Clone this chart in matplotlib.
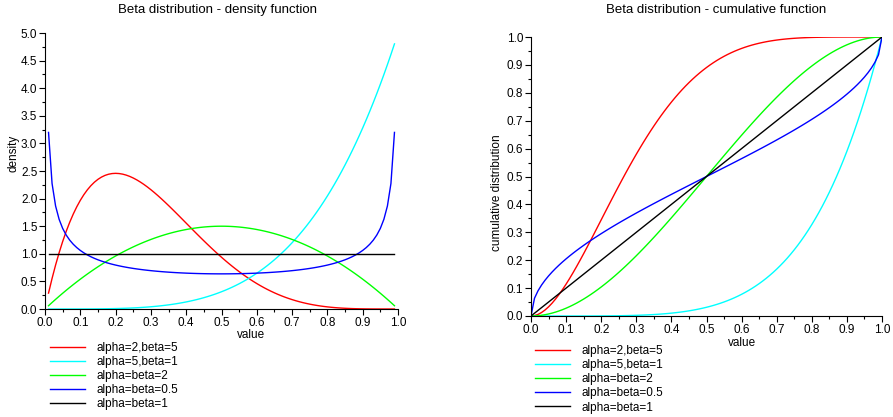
import math
import numpy as np
import matplotlib
matplotlib.use("Agg")
import matplotlib.pyplot as plt
from matplotlib.ticker import MultipleLocator

plt.rcParams['font.family'] = ['Liberation Sans', 'DejaVu Sans']

# distribution parameters, as written in the legend
alphas = [2, 5, 2, 0.5, 1]
betas = [5, 1, 2, 0.5, 1]
labels = ["alpha=2,beta=5", "alpha=5,beta=1", "alpha=beta=2",
          "alpha=beta=0.5", "alpha=beta=1"]
colors = ["#ff0000", "#00ffff", "#00ff00", "#0000ff", "#000000"]

# sample grids used by the original script
x_pdf = np.round(np.arange(0.01, 0.995, 0.01), 2)
x_cdf = np.round(np.arange(0.0, 1.005, 0.01), 2)


def beta_pdf(x, a, b):
    lnorm = math.lgamma(a + b) - math.lgamma(a) - math.lgamma(b)
    return np.exp(lnorm + (a - 1) * np.log(x) + (b - 1) * np.log(1 - x))


def betacf(a, b, x):
    # continued fraction for the incomplete beta function
    qab, qap, qam = a + b, a + 1.0, a - 1.0
    c, d = 1.0, 1.0 - qab * x / qap
    d = 1.0 / (d if abs(d) > 1e-30 else 1e-30)
    h = d
    for m in range(1, 300):
        m2 = 2 * m
        aa = m * (b - m) * x / ((qam + m2) * (a + m2))
        d = 1.0 + aa * d
        d = 1.0 / (d if abs(d) > 1e-30 else 1e-30)
        c = 1.0 + aa / c
        c = c if abs(c) > 1e-30 else 1e-30
        h *= d * c
        aa = -(a + m) * (qab + m) * x / ((a + m2) * (qap + m2))
        d = 1.0 + aa * d
        d = 1.0 / (d if abs(d) > 1e-30 else 1e-30)
        c = 1.0 + aa / c
        c = c if abs(c) > 1e-30 else 1e-30
        de = d * c
        h *= de
        if abs(de - 1.0) < 1e-12:
            break
    return h


def beta_cdf(xs, a, b):
    out = []
    for x in xs:
        if x <= 0:
            out.append(0.0)
            continue
        if x >= 1:
            out.append(1.0)
            continue
        bt = math.exp(math.lgamma(a + b) - math.lgamma(a) - math.lgamma(b)
                      + a * math.log(x) + b * math.log(1 - x))
        if x < (a + 1) / (a + b + 2):
            out.append(bt * betacf(a, b, x) / a)
        else:
            out.append(1.0 - bt * betacf(b, a, 1 - x) / b)
    return np.array(out)


W, H = 893, 417
fig = plt.figure(figsize=(W / 100, H / 100), dpi=100)


def px_axes(x0, x1, ytop, ybot):
    return fig.add_axes([x0 / W, (H - ybot) / H, (x1 - x0) / W, (ybot - ytop) / H])


def style_axes(ax, ymax, ymajor, yminor):
    ax.set_xlim(0, 1)
    ax.set_ylim(0, ymax)
    ax.spines['top'].set_visible(False)
    ax.spines['right'].set_visible(False)
    ax.xaxis.set_major_locator(MultipleLocator(0.1))
    ax.xaxis.set_minor_locator(MultipleLocator(0.05))
    ax.yaxis.set_major_locator(MultipleLocator(ymajor))
    ax.yaxis.set_minor_locator(MultipleLocator(yminor))
    ax.xaxis.set_major_formatter(plt.FormatStrFormatter('%.1f'))
    ax.yaxis.set_major_formatter(plt.FormatStrFormatter('%.1f'))
    ax.tick_params(which='major', length=4, width=0.8, labelsize=8.5, pad=1.5)
    ax.tick_params(which='minor', length=2.5, width=0.8)


def add_legend(ax, x, ytop):
    ax.legend(loc='upper left', bbox_to_anchor=(x / W, (H - ytop) / H),
              bbox_transform=fig.transFigure, frameon=False, fontsize=8.5,
              handlelength=3.0, handletextpad=0.9, labelspacing=0.18,
              borderpad=0, borderaxespad=0)


# density
ax1 = px_axes(45, 398, 33, 309)
for a, b, lab, col in zip(alphas, betas, labels, colors):
    ax1.plot(x_pdf, beta_pdf(x_pdf, a, b), color=col, lw=1.0, label=lab)
style_axes(ax1, 5.0, 0.5, 0.25)
add_legend(ax1, 50, 342)

# cumulative
ax2 = px_axes(531, 882, 37, 316)
for a, b, lab, col in zip(alphas, betas, labels, colors):
    ax2.plot(x_cdf, beta_cdf(x_cdf, a, b), color=col, lw=1.0, label=lab)
style_axes(ax2, 1.0, 0.1, 0.05)
add_legend(ax2, 535, 345)

# titles and axis labels
fig.text(217 / W, 1 - 10 / H, "Beta distribution - density function",
         ha='center', va='center', fontsize=9.5)
fig.text(716 / W, 1 - 10 / H, "Beta distribution - cumulative function",
         ha='center', va='center', fontsize=9.5)
fig.text(251 / W, 1 - 335 / H, "value", ha='center', va='center', fontsize=8.5)
fig.text(742 / W, 1 - 343 / H, "value", ha='center', va='center', fontsize=8.5)
fig.text(13 / W, 1 - 153 / H, "density", ha='center', va='center',
         rotation=90, fontsize=8.5)
fig.text(497 / W, 1 - 193 / H, "cumulative distribution", ha='center',
         va='center', rotation=90, fontsize=8.5)

fig.savefig("out.png", dpi=100)
